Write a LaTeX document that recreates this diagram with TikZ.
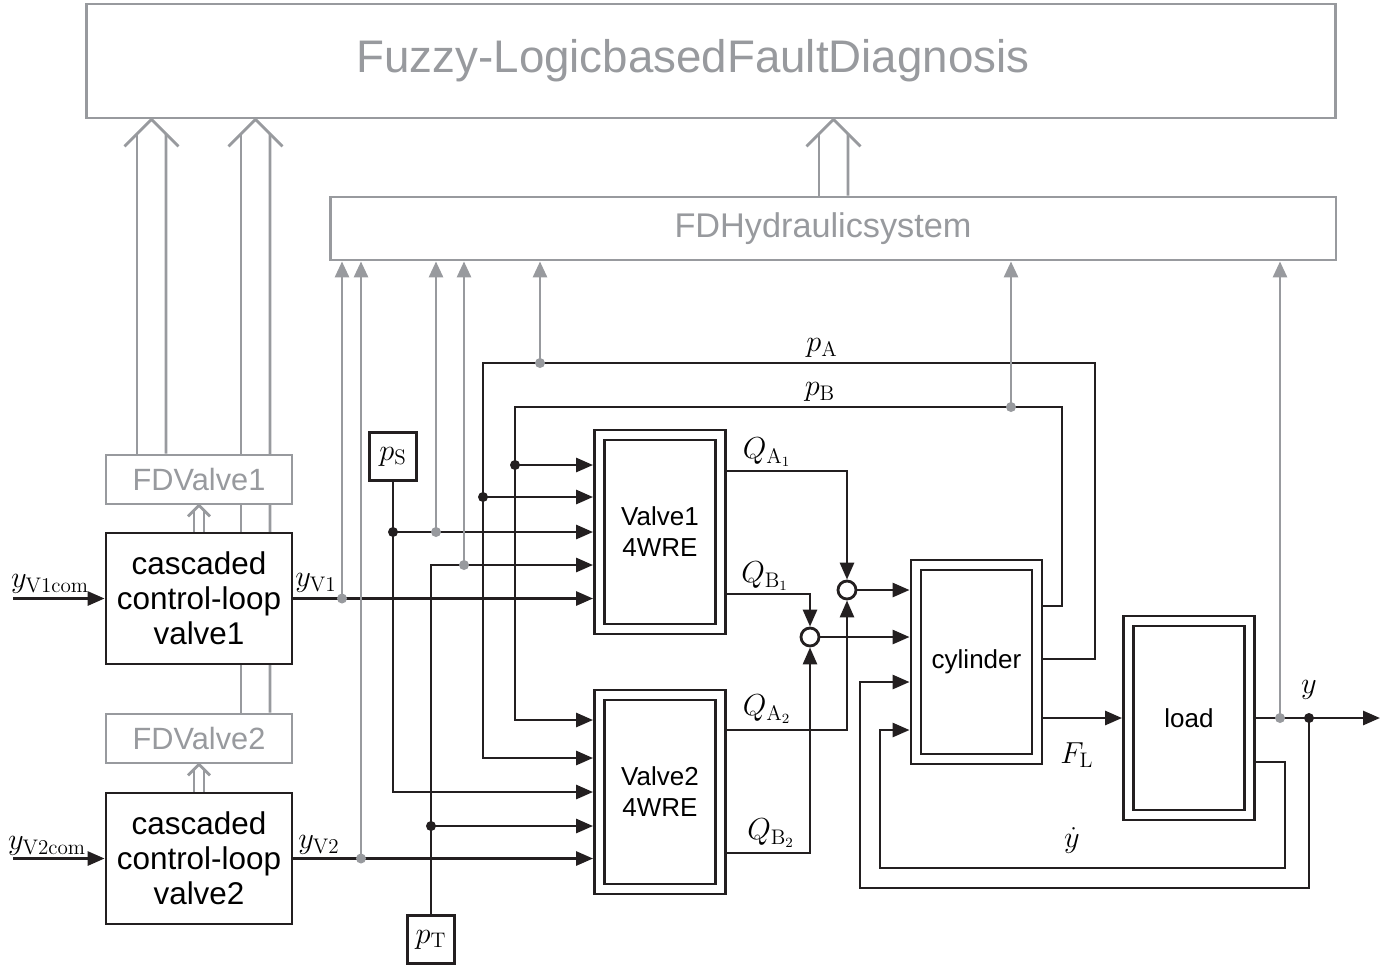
\documentclass[tikz,border=0pt]{standalone}
\usepackage[no-math]{fontspec}
\newfontfamily\arialfont{Liberation Sans}
\usetikzlibrary{arrows.meta,calc}
\pgfdeclarelayer{background}
\pgfsetlayers{background,main}

\definecolor{fdgray}{RGB}{152,154,158}
\definecolor{sysblack}{RGB}{35,31,32}

\tikzset{
  sysline/.style={draw=sysblack, line width=1.6pt},
  sig/.style={sysline, -{Triangle[length=0.34cm,width=0.28cm]}},
  fdline/.style={draw=fdgray, line width=1.6pt},
  fdsig/.style={fdline, -{Triangle[length=0.32cm,width=0.28cm]}},
  ctrlbox/.style={sysline, fill=white, minimum width=3.72cm, minimum height=2.62cm,
    align=center, font=\arialfont\fontsize{17.9}{19.8}\selectfont},
  fdbox/.style={fdline, fill=white, text=fdgray, font=\arialfont\fontsize{17.5}{20}\selectfont},
  hydbox/.style={sysline, double, double distance=0.145cm, fill=white,
    minimum width=2.42cm, minimum height=3.88cm, outer sep=0.129cm,
    align=center, font=\arialfont\fontsize{14.8}{17.6}\selectfont},
  srcbox/.style={sysline, fill=white, minimum size=0.95cm, inner sep=0pt,
    font=\fontsize{16.5}{19}\selectfont},
  sumnode/.style={circle, sysline, fill=white, minimum size=0.36cm, inner sep=0pt},
  bdot/.style={circle, fill=sysblack, minimum size=0.2cm, inner sep=0pt},
  gdot/.style={circle, fill=fdgray, minimum size=0.2cm, inner sep=0pt},
  lbl/.style={font=\fontsize{16.5}{19}\selectfont, inner sep=0pt},
}

% hollow double arrow: centre x, from, to, half gap, wing
\newcommand{\fddbl}[5]{%
  \coordinate (apex) at (#1,0 |- #3);
  \draw[fdline] (#1-#4,0 |- #2) -- ($(apex)+(-#4,#4)$);
  \draw[fdline] (#1+#4,0 |- #2) -- ($(apex)+(#4,#4)$);
  \draw[fdline] ($(apex)+(-#5,#5)$) -- (apex) -- ($(apex)+(#5,#5)$);
}

\begin{document}
\begin{tikzpicture}[x=0.02cm, y=-0.02cm]
  \useasboundingbox (0,0) rectangle (1390,965);

  % fault diagnosis blocks
  \node[fdbox, minimum width=25cm, minimum height=2.28cm,
    font=\arialfont\fontsize{26}{30}\selectfont] (fuzzy) at (711,61) {Fuzzy-LogicbasedFaultDiagnosis\hspace*{0.72cm}};
  \node[fdbox, minimum width=20.12cm, minimum height=1.26cm,
    font=\arialfont\fontsize{19.5}{22}\selectfont] (fdhyd) at (833,228.5) {FDHydraulicsystem\hspace*{0.4cm}};
  \node[fdbox, minimum width=3.72cm, minimum height=0.98cm] (fdv1) at (199,479.5) {FDValve1};
  \node[fdbox, minimum width=3.72cm, minimum height=0.98cm] (fdv2) at (199,738.5) {FDValve2};

  % plant blocks
  \node[ctrlbox] (ccl1) at (199,598.5) {cascaded\\control-loop\\valve1};
  \node[ctrlbox] (ccl2) at (199,858.5) {cascaded\\control-loop\\valve2};
  \node[hydbox] (valve1) at (660,532) {Valve1\\4WRE};
  \node[hydbox] (valve2) at (660,792) {Valve2\\4WRE};
  \node[hydbox] (cyl) at (976.5,662) {cylinder};
  \node[hydbox] (load) at (1189,718) {load};
  \node[srcbox] (ps) at (393,456.5) {$p_{\mathrm{S}}$};
  \node[srcbox] (pt) at (431,939.5) {$p_{\mathrm{T}}$};
  \node[sumnode] (sum1) at (847,590) {};
  \node[sumnode] (sum2) at (810,637) {};

  % branch points
  \coordinate (v1com) at (13,598.5);
  \coordinate (v2com) at (13,858.5);
  \coordinate (yout) at (1380,718);
  \coordinate (jB) at (515,465);
  \coordinate (jA) at (483,497);
  \coordinate (jS) at (393,532);
  \coordinate (jT) at (431,826);
  \coordinate (jy) at (1309,718);
  \coordinate (gV1) at (342,598.5);
  \coordinate (gV2) at (361,858.5);
  \coordinate (gS) at (436,532);
  \coordinate (gT) at (464,565);
  \coordinate (gA) at (540,363);
  \coordinate (gB) at (1011,407);
  \coordinate (gy) at (1280,718);

  % residual arrows
  \begin{pgfonlayer}{background}
    \fddbl{199}{ccl1.north}{fdv1.south}{5}{11}
    \fddbl{199}{ccl2.north}{fdv2.south}{5}{11}
    \fddbl{151.5}{fdv1.north}{fuzzy.south}{14.5}{27}
    \fddbl{255.5}{fdv2.north}{fuzzy.south}{14.5}{27}
    \fddbl{833.5}{fdhyd.north}{fuzzy.south}{14.5}{27}
  \end{pgfonlayer}

  % valve inputs
  \draw[sig] (v1com) -- (ccl1.west);
  \draw[sig] (v2com) -- (ccl2.west);
  \draw[sig] (ccl1.east) -- (valve1.west |- ccl1.east);
  \draw[sig] (ccl2.east) -- (valve2.west |- ccl2.east);
  \draw[sig] (cyl.east |- 0,659) -| (1095,363) -| (483,758) -- (valve2.west |- 0,758);
  \draw[sig] (cyl.east |- 0,606) -| (1062,407) -| (515,720) -- (valve2.west |- 0,720);
  \draw[sig] (jB) -- (valve1.west |- jB);
  \draw[sig] (jA) -- (valve1.west |- jA);
  \draw[sig] (ps.south) |- (valve2.west |- 0,792);
  \draw[sig] (jS) -- (valve1.west |- jS);
  \draw[sig] (pt.north) |- (valve1.west |- gT);
  \draw[sig] (jT) -- (valve2.west |- jT);

  % flows
  \draw[sig] (valve1.east |- 0,471) -| (sum1.north);
  \draw[sig] (valve1.east |- 0,594) -| (sum2.north);
  \draw[sig] (valve2.east |- 0,730) -| (sum1.south);
  \draw[sig] (valve2.east |- 0,853) -| (sum2.south);
  \draw[sig] (sum1.east) -- (cyl.west |- sum1.east);
  \draw[sig] (sum2.east) -- (cyl.west |- sum2.east);

  % mechanics
  \draw[sig] (cyl.east |- load.west) -- (load.west);
  \draw[sig] (load.east) -- (yout);
  \draw[sig] (load.east |- 0,762) -| (1285,868) -| (880,730) -- (cyl.west |- 0,730);
  \draw[sig] (jy) -- (1309,888) -| (860,682) -- (cyl.west |- 0,682);

  % measured signals
  \foreach \g in {gV1,gV2,gS,gT,gA,gB,gy}
    \draw[fdsig] (\g) -- (\g |- fdhyd.south);

  % dots
  \foreach \j in {jB,jA,jS,jT,jy}
    \node[bdot] at (\j) {};
  \foreach \g in {gV1,gV2,gS,gT,gA,gB,gy}
    \node[gdot] at (\g) {};

  % labels
  \node[lbl] at (50,584) {$y_{\mathrm{V1com}}$};
  \node[lbl] at (47,846) {$y_{\mathrm{V2com}}$};
  \node[lbl] at (316,583) {$y_{\mathrm{V1}}$};
  \node[lbl] at (319,845) {$y_{\mathrm{V2}}$};
  \node[lbl] at (822,348) {$p_{\mathrm{A}}$};
  \node[lbl] at (820,392) {$p_{\mathrm{B}}$};
  \node[lbl] at (767,452) {$Q_{\mathrm{A}_1}$};
  \node[lbl] at (765,576) {$Q_{\mathrm{B}_1}$};
  \node[lbl] at (767,709) {$Q_{\mathrm{A}_2}$};
  \node[lbl] at (771,833) {$Q_{\mathrm{B}_2}$};
  \node[lbl] at (1077,755) {$F_{\mathrm{L}}$};
  \node[lbl] at (1072,840) {$\dot{y}$};
  \node[lbl] at (1309,690) {$y$};
\end{tikzpicture}
\end{document}
